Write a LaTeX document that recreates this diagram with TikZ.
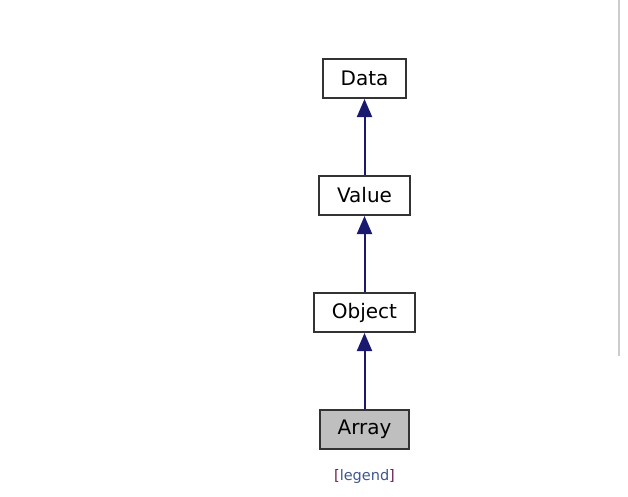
\documentclass[tikz,border=0pt]{standalone}
\usepackage{fontspec}
\setmainfont{DejaVu Sans}
\usetikzlibrary{arrows.meta}
\usetikzlibrary{positioning}
\definecolor{edgeblue}{HTML}{191970}
\definecolor{linkblue}{HTML}{3D578C}
\definecolor{bracketred}{HTML}{6B1F4F}

\begin{document}
\begin{tikzpicture}[x=1pt,y=-1pt,node distance=76pt,
    cls/.style={draw=black!80, line width=2pt, fill=white,
      minimum height=39pt, inner xsep=18pt, font=\fontsize{20}{22}\selectfont},
    inherit/.style={draw=edgeblue, line width=2pt,
      -{Triangle[length=18pt,width=15pt,fill=edgeblue]}}]
    \useasboundingbox (0,0) rectangle (628,496);
    \node [cls, fill=black!25] (array) at (364.5,429.5) {Array};
    \node [cls, above=of array] (object) {Object};
    \node [cls, above=of object] (value) {Value};
    \node [cls, above=of value] (data) {Data};
    \node [font=\fontsize{14.5}{16}\selectfont] (legend) at (364.5,476)
      {\textcolor{bracketred}{[}\textcolor{linkblue}{legend}\textcolor{bracketred}{]}};

    \draw [inherit] (array) -- (object);
    \draw [inherit] (object) -- (value);
    \draw [inherit] (value) -- (data);

    % edge of the side panel
    \draw [black!20, line width=1.5pt] (619,0) -- (619,356);
  \end{tikzpicture}
\end{document}
